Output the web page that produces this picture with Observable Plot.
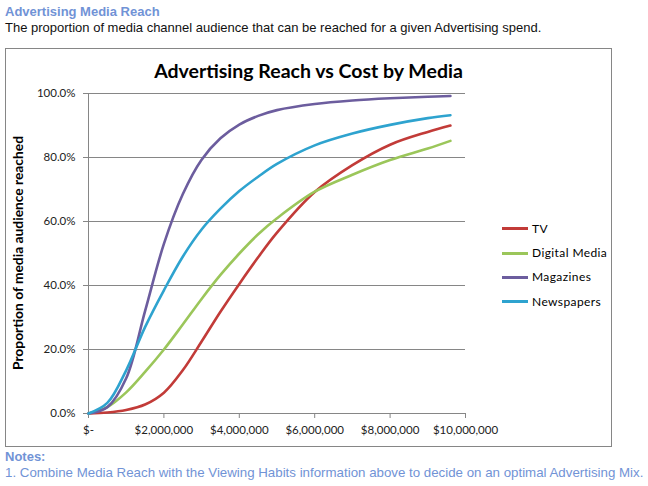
<!DOCTYPE html>
<html>
<head>
<meta charset="utf-8">
<script src="https://cdn.jsdelivr.net/npm/d3@7"></script>
<script src="https://cdn.jsdelivr.net/npm/@observablehq/plot@0.6"></script>
<style>
  html, body { margin: 0; padding: 0; background: #fff; }
  body { width: 648px; height: 486px; position: relative; overflow: hidden; font-family: "Liberation Sans", Arial, sans-serif; }
  .hdr { position: absolute; left: 5px; white-space: nowrap; }
  #h1 { top: 4px; font-size: 13px; font-weight: bold; color: #7193d6; }
  #h2 { top: 20px; font-size: 13px; color: #111; }
  #n1 { top: 449px; font-size: 13px; font-weight: bold; color: #7193d6; }
  #n2 { top: 465px; font-size: 13.3px; color: #7193d6; }
  #box { position: absolute; left: 5px; top: 48px; width: 607px; height: 399px; border: 1px solid #868686; box-sizing: border-box; background: #fff; }
  #box svg { position: absolute; left: 0; top: 0; }
  #ctitle { position: absolute; width: 605px; top: 10px; text-align: center; font-family: Lato, "Open Sans", sans-serif; font-weight: bold; font-size: 19.5px; color: #000; }
  .leg { position: absolute; font-family: Lato, "Open Sans", sans-serif; font-size: 12px; letter-spacing: 0.4px; color: #000; white-space: nowrap; }
  .leg i { display: inline-block; width: 26px; height: 3px; vertical-align: middle; margin-right: 4px; position: relative; top: -1px; }
</style>
</head>
<body>
<div class="hdr" id="h1">Advertising Media Reach</div>
<div class="hdr" id="h2">The proportion of media channel audience that can be reached for a given Advertising spend.</div>
<div id="box"></div>
<div class="hdr" id="n1">Notes:</div>
<div class="hdr" id="n2">1. Combine Media Reach with the Viewing Habits information above to decide on an optimal Advertising Mix.</div>
<script>
// ---- data ----
const spend = [0, 500000, 1000000, 1500000, 2000000, 2500000, 3000000, 3500000, 4000000, 4500000, 5000000, 6000000, 7000000, 8000000, 9000000, 9600000];
const tv          = [0, 0.3, 1.1, 2.8, 6.5, 13.5, 22.5, 31.8, 40.5, 48.8, 56.5, 69.2, 77.6, 84.0, 88.0, 90.0];
const digitalMedia= [0, 2.0, 6.6, 13.0, 20.0, 27.8, 35.8, 43.3, 50.0, 56.0, 61.0, 69.3, 74.6, 79.2, 82.8, 85.2];
const magazines   = [0, 2.0, 11.0, 32.0, 53.0, 68.5, 79.3, 86.0, 90.3, 93.0, 94.8, 96.7, 97.8, 98.5, 99.0, 99.2];
const newspapers  = [0, 3.3, 13.5, 27.0, 38.5, 49.0, 57.5, 64.0, 69.5, 74.0, 78.0, 83.8, 87.5, 90.2, 92.3, 93.2];
const seriesNames = ["TV", "Digital Media", "Magazines", "Newspapers"];
const seriesValues = [tv, digitalMedia, magazines, newspapers];
const seriesColors = ["#C23B38", "#9BC65A", "#6C5D9E", "#2EA3CF"];
const xTicks = [0, 2000000, 4000000, 6000000, 8000000, 10000000];
const yTicks = [0, 20, 40, 60, 80, 100];
const chartTitle = "Advertising Reach vs Cost by Media";
const yLabel = "Proportion of media audience reached";

const rows = [];
seriesNames.forEach((name, i) => {
  spend.forEach((s, j) => rows.push({series: name, spend: s, reach: seriesValues[i][j]}));
});

const grid = "#868686";
const fontFam = "Lato, 'Open Sans', sans-serif";

const chart = Plot.plot({
  width: 605,
  height: 397,
  marginLeft: 82,
  marginRight: 146,
  marginTop: 44,
  marginBottom: 33,
  style: { fontFamily: fontFam, fontSize: "11.5px", color: "#222", background: "transparent" },
  x: { domain: [0, 10000000], ticks: xTicks },
  y: { domain: [0, 100], ticks: yTicks },
  color: { domain: seriesNames, range: seriesColors },
  marks: [
    Plot.ruleY(yTicks.filter(d => d > 0), { stroke: grid, strokeWidth: 1 }),
    Plot.ruleX([0], { stroke: grid }),
    Plot.ruleY([0], { stroke: grid }),
    Plot.axisX({ ticks: xTicks, tickSize: 5, tickPadding: 7, stroke: grid, fill: "#222",
      tickFormat: d => d === 0 ? "$-" : "$" + d3.format(",")(d), label: null }),
    Plot.axisY({ ticks: yTicks, tickSize: 5, tickPadding: 8, stroke: grid, fill: "#222",
      tickFormat: d => d.toFixed(1) + "%", label: null }),
    Plot.line(rows, { x: "spend", y: "reach", z: "series", stroke: "series", strokeWidth: 2.6, curve: "catmull-rom" })
  ]
});

const box = document.getElementById("box");
box.appendChild(chart);

const t = document.createElement("div");
t.id = "ctitle";
t.style.left = "0px";
t.textContent = chartTitle;
box.appendChild(t);

const yl = document.createElement("div");
yl.style.cssText = "position:absolute;font-family:Lato,'Open Sans',sans-serif;font-weight:bold;font-size:13.8px;color:#000;white-space:nowrap;left:11px;top:204px;width:0;height:0;";
const inner = document.createElement("div");
inner.textContent = yLabel;
inner.style.cssText = "position:absolute;left:0;top:0;transform:translate(-50%,-50%) rotate(-90deg);";
yl.appendChild(inner);
box.appendChild(yl);

seriesNames.forEach((name, i) => {
  const d = document.createElement("div");
  d.className = "leg";
  d.style.left = "496px";
  d.style.top = (172 + i * 24.2) + "px";
  d.innerHTML = `<i style="background:${seriesColors[i]}"></i>`;
  d.appendChild(document.createTextNode(name));
  box.appendChild(d);
});
</script>
</body>
</html>
